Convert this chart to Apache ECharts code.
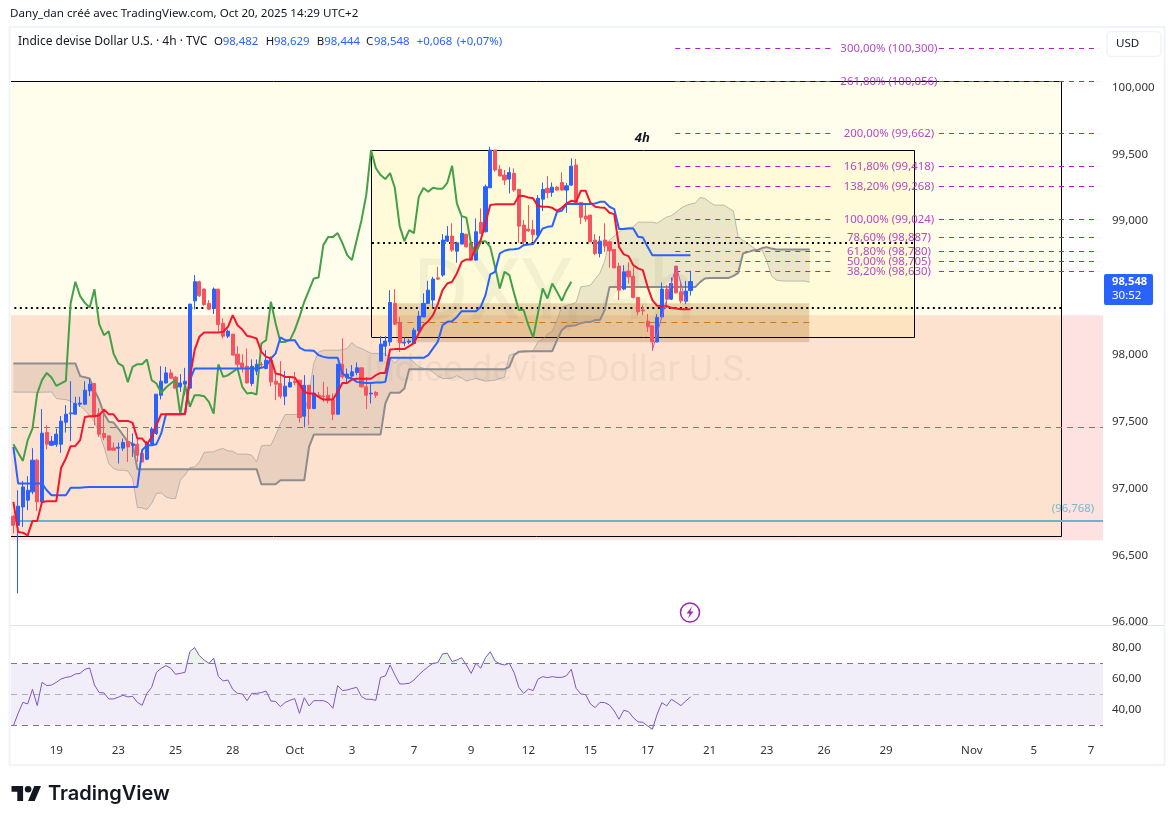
<!DOCTYPE html>
<html>
<head>
<meta charset="utf-8">
<script src="https://cdn.jsdelivr.net/npm/echarts@6/dist/echarts.min.js"></script>
<style>html,body{margin:0;padding:0;background:#fff}#c{width:1175px;height:824px}</style>
</head>
<body>
<div id="c"></div>
<script>
const opens=[96.793,96.725,96.862,96.913,96.975,97.212,96.900,97.419,97.324,97.329,
97.332,97.496,97.559,97.556,97.631,97.631,97.731,97.786,97.561,97.412,
97.394,97.304,97.302,97.302,97.352,97.322,97.332,97.262,97.219,97.332,
97.412,97.698,97.790,97.865,97.833,97.760,97.781,97.751,98.404,98.547,
98.492,98.385,98.347,98.492,98.235,98.140,98.155,98.005,97.940,97.915,
97.786,97.878,97.930,97.898,97.960,97.803,97.786,97.691,97.760,97.803,
97.811,97.541,97.773,97.599,97.698,97.693,97.698,97.661,97.556,97.930,
97.831,97.841,97.868,97.903,97.761,97.708,97.719,97.953,98.065,98.097,
98.385,98.240,98.088,98.095,98.085,98.180,98.284,98.385,98.410,98.576,
98.597,98.851,98.889,98.776,98.829,98.903,98.838,98.709,98.991,98.921,
99.250,99.532,99.388,99.345,99.315,99.358,99.238,98.971,98.941,98.937,
98.896,99.165,99.246,99.216,99.255,99.290,99.233,99.270,99.420,99.141,
99.038,99.046,98.859,98.759,98.859,98.846,98.789,98.664,98.492,98.627,
98.589,98.430,98.335,98.252,98.217,98.097,98.284,98.492,98.417,98.664,
98.472,98.402,98.482];
const closes=[96.725,96.868,97.012,96.987,97.212,96.900,97.414,97.332,97.354,97.407,
97.504,97.556,97.566,97.636,97.639,97.736,97.781,97.536,97.407,97.382,
97.287,97.287,97.309,97.344,97.311,97.334,97.249,97.199,97.344,97.446,
97.706,97.803,97.865,97.826,97.751,97.790,97.803,98.380,98.547,98.442,
98.377,98.342,98.492,98.228,98.140,98.177,97.998,97.930,97.903,97.790,
97.915,97.930,97.925,97.960,97.798,97.781,97.691,97.766,97.793,97.793,
97.531,97.773,97.599,97.713,97.691,97.689,97.661,97.556,97.930,97.835,
97.856,97.873,97.903,97.761,97.698,97.713,97.698,98.080,98.103,98.392,
98.230,98.090,98.095,98.103,98.185,98.290,98.385,98.484,98.567,98.567,
98.859,98.889,98.784,98.838,98.909,98.808,98.709,98.921,98.909,99.258,
99.532,99.383,99.338,99.308,99.365,99.233,98.963,98.846,98.928,98.901,
99.171,99.238,99.213,99.255,99.233,99.233,99.265,99.412,99.133,99.029,
99.016,98.846,98.759,98.851,98.814,98.779,98.651,98.484,98.621,98.584,
98.430,98.322,98.329,98.210,98.097,98.280,98.492,98.417,98.534,98.464,
98.404,98.477,98.548];
const lows=[96.665,96.216,96.713,96.838,96.957,96.832,96.900,97.294,97.317,97.311,
97.267,97.419,97.354,97.556,97.611,97.624,97.691,97.474,97.386,97.362,
97.287,97.287,97.187,97.282,97.199,97.237,97.199,97.195,97.212,97.324,
97.400,97.666,97.786,97.821,97.751,97.723,97.698,97.751,98.340,98.434,
98.367,98.335,98.305,98.172,98.123,98.125,97.998,97.898,97.868,97.786,
97.766,97.848,97.910,97.891,97.766,97.661,97.674,97.624,97.756,97.773,
97.494,97.457,97.474,97.594,97.686,97.648,97.636,97.511,97.556,97.823,
97.790,97.823,97.848,97.756,97.594,97.636,97.678,97.953,97.990,98.067,
98.222,98.022,98.065,98.080,98.080,98.172,98.284,98.380,98.359,98.559,
98.584,98.846,98.771,98.689,98.829,98.804,98.704,98.704,98.909,98.916,
99.250,99.370,99.338,99.270,99.208,99.220,98.838,98.821,98.921,98.846,
98.883,99.076,99.171,99.183,99.228,99.228,99.063,99.263,99.133,98.978,
98.996,98.846,98.746,98.729,98.771,98.651,98.647,98.410,98.484,98.534,
98.422,98.297,98.297,98.172,98.030,98.097,98.280,98.350,98.410,98.460,
98.385,98.380,98.444];
const highs=[96.800,96.987,97.057,97.092,97.302,97.222,97.594,97.474,97.392,97.449,
97.543,97.624,97.803,97.686,97.686,97.803,97.823,97.786,97.601,97.574,
97.394,97.344,97.344,97.374,97.454,97.412,97.374,97.274,97.354,97.461,
97.706,97.915,97.910,97.893,97.841,97.856,97.903,98.380,98.597,98.555,
98.497,98.410,98.504,98.492,98.273,98.190,98.155,98.065,98.005,98.048,
97.966,97.966,97.948,98.035,97.990,97.861,97.953,97.878,97.828,97.873,
97.811,97.848,97.773,97.848,97.723,97.798,97.761,97.711,97.930,98.123,
97.898,97.923,97.943,97.903,97.835,97.786,97.728,98.140,98.140,98.484,
98.492,98.284,98.130,98.118,98.202,98.327,98.460,98.554,98.584,98.659,
98.903,98.963,98.984,98.846,99.046,98.903,98.838,99.021,99.096,99.275,
99.557,99.532,99.420,99.383,99.403,99.395,99.238,99.008,99.121,99.008,
99.195,99.290,99.338,99.290,99.263,99.365,99.285,99.470,99.465,99.141,
99.133,99.046,98.903,98.889,98.984,98.846,98.789,98.689,98.671,98.692,
98.659,98.430,98.372,98.305,98.217,98.305,98.542,98.522,98.579,98.664,
98.547,98.554,98.629];
const tenkan=[96.90,96.675,96.67,96.65,96.758,96.758,96.90,96.905,96.905,96.905,
97.154,97.225,97.317,97.319,97.362,97.536,97.541,97.541,97.549,97.591,
97.556,97.556,97.506,97.506,97.506,97.491,97.374,97.374,97.332,97.384,
97.474,97.556,97.556,97.556,97.556,97.556,97.556,97.826,98.035,98.135,
98.168,98.168,98.168,98.168,98.172,98.21,98.297,98.222,98.19,98.142,
98.135,98.123,98.022,97.985,97.973,97.861,97.853,97.835,97.835,97.831,
97.781,97.723,97.711,97.711,97.686,97.666,97.666,97.666,97.723,97.79,
97.79,97.816,97.821,97.821,97.821,97.821,97.848,97.865,97.865,98.04,
98.043,98.043,98.043,98.065,98.088,98.16,98.222,98.252,98.297,98.38,
98.484,98.534,98.547,98.609,98.696,98.714,98.714,98.808,98.859,98.984,
99.121,99.126,99.126,99.126,99.126,99.126,99.19,99.188,99.178,99.171,
99.113,99.108,99.108,99.10,99.078,99.10,99.133,99.153,99.145,99.228,
99.228,99.138,99.108,99.103,99.10,99.063,99.053,98.808,98.752,98.739,
98.671,98.647,98.634,98.509,98.41,98.367,98.365,98.365,98.352,98.347,
98.342,98.342,98.342];
const kijun=[97.311,97.037,97.037,97.037,97.037,97.037,97.037,96.987,96.95,96.95,
96.95,96.95,97.005,97.005,97.005,97.01,97.012,97.012,97.012,97.012,
97.012,97.012,97.012,97.012,97.012,97.012,97.012,97.287,97.324,97.324,
97.332,97.412,97.556,97.556,97.556,97.556,97.561,97.811,97.898,97.898,
97.898,97.898,97.898,97.898,97.898,97.898,97.898,97.898,97.898,97.898,
97.898,97.898,97.903,97.915,97.973,98.011,98.13,98.11,98.11,98.11,
98.055,98.035,98.033,98.03,97.998,97.985,97.978,97.978,97.978,97.863,
97.831,97.823,97.798,97.793,97.79,97.79,97.793,97.793,97.798,97.978,
97.978,97.978,97.978,97.978,97.978,97.978,97.978,97.998,98.048,98.097,
98.222,98.247,98.252,98.284,98.327,98.327,98.327,98.327,98.359,98.447,
98.602,98.621,98.759,98.779,98.789,98.791,98.796,98.821,98.826,98.829,
98.883,98.946,98.958,98.963,99.07,99.078,99.128,99.128,99.128,99.128,
99.128,99.128,99.133,99.145,99.145,99.108,99.091,98.941,98.941,98.946,
98.946,98.883,98.879,98.808,98.746,98.746,98.746,98.746,98.746,98.746,
98.746,98.746,98.746];
const chikou=[97.332,97.267,97.207,97.362,97.449,97.711,97.811,97.865,97.831,97.768,
97.786,97.805,98.385,98.547,98.439,98.389,98.355,98.49,98.23,98.147,
98.177,98.01,97.936,97.915,97.796,97.91,97.93,97.93,97.966,97.811,
97.786,97.716,97.756,97.786,97.811,97.554,97.773,97.611,97.698,97.698,
97.691,97.648,97.561,97.93,97.835,97.848,97.873,97.898,97.761,97.711,
97.716,97.704,98.085,98.11,98.397,98.235,98.097,98.097,98.11,98.185,
98.284,98.397,98.484,98.572,98.579,98.821,98.881,98.881,98.911,98.836,
98.746,98.709,98.859,99.008,99.195,99.532,99.398,99.345,99.315,99.36,
99.248,98.963,98.851,98.933,98.911,99.18,99.248,99.22,99.25,99.243,
99.243,99.287,99.415,99.133,99.038,99.026,98.826,98.761,98.846,98.851,
98.808,98.659,98.497,98.621,98.597,98.46,98.335,98.335,98.222,98.13,
98.31,98.497,98.422,98.534,98.472,98.404,98.484,98.547];
const senkouA=[97.723,97.721,97.721,97.721,97.721,97.719,97.721,97.721,97.723,97.674,
97.668,97.666,97.653,97.636,97.616,97.586,97.543,97.499,97.412,97.311,
97.187,97.15,97.137,97.137,97.132,97.075,96.858,96.855,96.843,96.888,
96.963,96.967,96.937,96.925,96.925,97.062,97.1,97.157,97.162,97.199,
97.27,97.274,97.274,97.292,97.299,97.282,97.279,97.257,97.257,97.257,
97.249,97.199,97.319,97.324,97.324,97.399,97.487,97.554,97.554,97.554,
97.554,97.556,97.713,97.938,98.022,98.035,98.035,98.035,98.035,98.04,
98.048,98.093,98.06,98.048,98.03,98.011,98.011,98.011,98.009,97.975,
97.938,97.978,97.983,97.975,97.945,97.91,97.9,97.893,97.87,97.841,
97.823,97.823,97.826,97.844,97.826,97.805,97.814,97.823,97.814,97.803,
97.807,97.811,97.822,97.833,97.998,98.009,98.017,98.02,98.024,98.032,
98.097,98.118,98.155,98.177,98.26,98.357,98.368,98.38,98.392,98.509,
98.514,98.522,98.567,98.612,98.701,98.859,98.889,98.918,98.948,98.952,
98.958,98.993,98.993,98.993,98.993,98.986,99.008,99.031,99.042,99.068,
99.098,99.117,99.128,99.136,99.178,99.171,99.143,99.121,99.121,99.121,
99.098,99.076,98.881,98.859,98.836,98.806,98.784,98.784,98.701,98.589,
98.559,98.554,98.552,98.552,98.552,98.552,98.552,98.544];
const senkouB=[97.936,97.936,97.936,97.936,97.936,97.936,97.936,97.936,97.936,97.936,
97.936,97.936,97.936,97.936,97.841,97.833,97.823,97.736,97.661,97.561,
97.499,97.494,97.449,97.399,97.349,97.337,97.145,97.145,97.145,97.145,
97.145,97.145,97.145,97.145,97.145,97.145,97.145,97.145,97.145,97.145,
97.145,97.145,97.145,97.145,97.145,97.145,97.145,97.145,97.145,97.145,
97.145,97.145,97.032,97.032,97.032,97.032,97.062,97.062,97.062,97.062,
97.062,97.062,97.311,97.404,97.404,97.404,97.404,97.404,97.404,97.404,
97.404,97.404,97.404,97.404,97.404,97.404,97.404,97.404,97.636,97.716,
97.716,97.716,97.748,97.893,97.893,97.893,97.893,97.893,97.893,97.893,
97.893,97.893,97.893,97.893,97.893,97.893,97.893,97.893,97.893,97.893,
97.893,97.893,97.893,97.893,97.91,97.998,98.024,98.028,98.028,98.028,
98.028,98.028,98.028,98.028,98.11,98.185,98.215,98.217,98.222,98.237,
98.245,98.245,98.26,98.26,98.335,98.507,98.507,98.507,98.507,98.507,
98.507,98.507,98.507,98.507,98.507,98.507,98.507,98.507,98.507,98.507,
98.507,98.507,98.507,98.507,98.544,98.572,98.576,98.576,98.576,98.576,
98.576,98.591,98.614,98.759,98.769,98.78,98.784,98.799,98.806,98.795,
98.789,98.789,98.789,98.789,98.789,98.789,98.789,98.789];
const rsi=[29.8,37.7,44.8,43.8,53.2,42.7,57.7,55.6,56.0,57.7,
59.9,60.9,61.4,63.1,63.5,66.1,67.0,56.0,51.1,50.9,
47.0,47.0,48.1,49.4,48.3,48.7,44.8,42.9,50.6,54.5,
64.2,66.8,68.5,66.8,62.9,63.5,64.2,77.5,80.1,74.9,
72.1,70.0,73.2,61.4,58.6,59.2,53.2,50.6,50.2,45.9,
50.6,50.6,51.1,52.1,45.7,45.3,42.0,44.8,46.1,47.2,
37.7,47.8,42.5,45.9,45.9,45.9,44.6,41.0,55.6,52.4,
52.8,53.7,54.5,48.5,46.8,46.8,46.1,60.9,61.8,68.9,
62.5,56.7,56.7,57.1,59.2,62.5,65.3,67.8,70.0,70.4,
76.0,76.5,71.1,72.1,73.6,68.9,63.5,70.0,66.8,73.6,
77.5,71.5,69.6,68.9,70.0,64.0,54.5,50.6,53.4,52.4,
59.7,61.4,60.7,61.4,60.9,60.9,62.0,66.1,53.9,50.2,
49.8,43.8,41.4,44.8,44.6,43.1,39.2,33.9,39.7,38.8,
34.9,32.2,31.9,29.6,27.4,37.1,44.6,42.5,46.8,44.8,
42.7,45.7,48.3];
const priceTicks=[96,96.5,97,97.5,98,98.5,99,99.5,100];
const rsiTicks=[40,60,80];
const rsiLevels=[70,50,30];
const timeTicks=[[9,'19'],[22,'23'],[34,'25'],[46,'28'],[59,'Oct'],[71,'3'],[84,'7'],[96,'9'],[108,'12'],[121,'15'],[133,'17'],[146,'21'],[158,'23'],[170,'26'],[183,'29'],[201,'Nov'],[214,'5'],[226,'7']];
const fibLevels=[100.293,100.043,99.657,99.41,99.26,99.013,98.879,98.774,98.699,98.624];
const fibTexts=['300,00% (100,300)','261,80% (100,056)','200,00% (99,662)','161,80% (99,418)','138,20% (99,268)','100,00% (99,024)','78,60% (98,887)','61,80% (98,780)','50,00% (98,705)','38,20% (98,630)'];
const bosLine=[[134,98.035],[139,98.664],[141,98.40]];

const BARS=229, UP='#2962ff', DOWN='#f7525f';
const FONT='"Noto Sans", sans-serif';
const cats=Array.from({length:BARS},(_,i)=>String(i));
const tickMap=new Map(timeTicks);
const yellow='rgba(255,235,59,0.1)';

function rectSeries(rows,fill,z){
  return {type:'custom',xAxisIndex:1,yAxisIndex:0,z,silent:true,data:rows,
    renderItem(p,api){
      const a=api.coord([api.value(0),api.value(2)]),b=api.coord([api.value(1),api.value(3)]);
      return {type:'rect',shape:{x:a[0],y:b[1],width:b[0]-a[0],height:a[1]-b[1]},style:{fill}};
    }};
}
const crisp=(v,w)=>w%2?Math.floor(v)+0.5:Math.round(v);
function hLines(rows,color,width,dash,z){
  return {type:'custom',xAxisIndex:1,yAxisIndex:0,z,silent:true,data:rows,
    renderItem(p,api){
      const a=api.coord([api.value(0),api.value(2)]),b=api.coord([api.value(1),api.value(2)]);
      const y=crisp(a[1],width);
      return {type:'line',shape:{x1:a[0],y1:y,x2:b[0],y2:y},style:{stroke:color,lineWidth:width,lineDash:dash||null}};
    }};
}
function vLines(rows,color,width,z){
  return {type:'custom',xAxisIndex:1,yAxisIndex:0,z,silent:true,data:rows,
    renderItem(p,api){
      const a=api.coord([api.value(0),api.value(1)]),b=api.coord([api.value(0),api.value(2)]);
      const x=crisp(a[0],width);
      return {type:'line',shape:{x1:x,y1:a[1],x2:x,y2:b[1]},style:{stroke:color,lineWidth:width}};
    }};
}
function textMarks(rows,color,font,z){
  return {type:'custom',xAxisIndex:1,yAxisIndex:0,z,silent:true,data:rows.map(r=>[r[0],r[1]]),
    renderItem(p,api){
      const a=api.coord([api.value(0),api.value(1)]);
      return {type:'text',x:a[0],y:a[1],style:{text:rows[p.dataIndex][2],fill:color,font,align:'center',verticalAlign:'middle'}};
    }};
}
function ln(data,color,width,z,extra){
  return Object.assign({type:'line',xAxisIndex:0,yAxisIndex:0,data,symbol:'none',z,silent:true,clip:true,
    lineStyle:{color,width},itemStyle:{color}},extra||{});
}
function hdr(text,x,y,color,size){
  return {type:'text',x,y,z:50,silent:true,style:{text,fill:color,font:(size||12)+'px '+FONT,verticalAlign:'middle'}};
}
const cloud={type:'custom',xAxisIndex:0,yAxisIndex:0,z:2,silent:true,data:[[0,0]],
  renderItem(p,api){
    const pts=[];
    senkouA.forEach((v,i)=>pts.push(api.coord([i,v])));
    for(let i=senkouB.length-1;i>=0;i--)pts.push(api.coord([i,senkouB[i]]));
    return {type:'polygon',shape:{points:pts},style:{fill:'rgba(110,105,95,0.14)'}};
  }};

const chart=echarts.init(document.getElementById('c'),null,{renderer:'canvas'});
chart.setOption({
  animation:false,
  backgroundColor:'#fff',
  grid:[{left:11,top:27,width:1092,height:598},{left:11,top:626,width:1092,height:112}],
  xAxis:[
    {type:'category',gridIndex:0,data:cats,show:false,boundaryGap:true},
    {type:'value',gridIndex:0,min:-0.5,max:BARS-0.5,show:false},
    {type:'category',gridIndex:1,data:cats,boundaryGap:true,axisLine:{show:false},axisTick:{show:false},splitLine:{show:false},
      axisLabel:{show:true,margin:7,color:'#333',fontFamily:FONT,fontSize:11.6,hideOverlap:false,
        interval:(i)=>tickMap.has(i),formatter:(v,i)=>tickMap.get(+v)||''}}
  ],
  yAxis:[
    {type:'value',gridIndex:0,position:'right',min:95.979,max:100.453,axisLine:{show:false},axisTick:{show:false},splitLine:{show:false},
      axisLabel:{customValues:priceTicks,margin:9,color:'#333',fontFamily:FONT,fontSize:11.5,formatter:v=>v.toFixed(3).replace('.',',')}},
    {type:'value',gridIndex:1,position:'right',min:21.8,max:94.06,axisLine:{show:false},axisTick:{show:false},splitLine:{show:false},
      axisLabel:{customValues:rsiTicks,margin:9,color:'#333',fontFamily:FONT,fontSize:11.5,formatter:v=>v.toFixed(2).replace('.',',')}}
  ],
  series:[
    rectSeries([[-0.5,228.5,96.613,98.297]],'#fee1e1',0),
    rectSeries([[-0.5,219.8,96.641,100.043]],yellow,1),
    rectSeries([[75.2,189,98.13,99.528]],yellow,1),
    rectSeries([[80.3,166.9,98.095,98.387]],'rgba(180,120,50,0.3)',1),
    hLines([[-0.5,219.8,100.043],[-0.5,219.8,96.641],[75.2,189,99.528],[75.2,189,98.13]],'#000',1,null,1),
    vLines([[219.8,96.641,100.043],[75.2,98.13,99.528],[189,98.13,99.528]],'#000',1,1),
    cloud,
    hLines([[80.3,166.9,98.243]],'#c8761e',1,[6,5],3),
    hLines([[-0.5,228.5,97.459]],'#d9505a',1,[6,5],3),
    hLines([[0.2,219.8,98.35],[75.2,189,98.838]],'#000',2,[2,3.5],3),
    hLines([[-0.5,228.5,96.757]],'#67b7c6',2,null,3),
    hLines(fibLevels.flatMap(v=>[[138.8,172.3,v],[194.1,227.7,v]]),'#a726c1',1,[5,5],3),
    ln(senkouA,'rgba(150,150,150,0.6)',1,4),
    ln(senkouB,'#8d8d8d',2,4),
    {type:'candlestick',xAxisIndex:0,yAxisIndex:0,z:5,silent:true,barWidth:3.6,
      data:opens.map((o,i)=>[o,closes[i],lows[i],highs[i]]),
      itemStyle:{color:UP,color0:DOWN,borderColor:UP,borderColor0:DOWN,borderWidth:1}},
    ln(chikou,'#43a047',2,6),
    ln(kijun,'#2962ff',2,6),
    ln(tenkan,'#f2162f',2,6),
    {type:'line',xAxisIndex:1,yAxisIndex:0,z:7,symbol:'none',silent:true,data:bosLine,lineStyle:{color:'#b45cc4',width:1}},
    textMarks(fibLevels.map((v,i)=>[183.6,v,fibTexts[i]]),'rgba(166,40,190,0.85)','11.4px '+FONT,8),
    textMarks([[222.2,96.845,'(96,768)']],'#74bcc9','11.4px '+FONT,8),
    textMarks([[131.9,99.62,'4h']],'#131722','italic bold 13px '+FONT,8),
    {type:'line',xAxisIndex:2,yAxisIndex:1,data:rsi.map(v=>Math.max(v,70)),symbol:'none',silent:true,z:3,lineStyle:{width:0},
      areaStyle:{origin:70,color:'rgba(76,175,80,0.18)'}},
    {type:'line',xAxisIndex:2,yAxisIndex:1,data:rsi.map(v=>Math.min(v,30)),symbol:'none',silent:true,z:3,lineStyle:{width:0},
      areaStyle:{origin:30,color:'rgba(242,54,69,0.18)'}},
    {type:'line',xAxisIndex:2,yAxisIndex:1,data:rsi,symbol:'none',silent:true,z:4,lineStyle:{color:'#7e57c2',width:1},
      markArea:{silent:true,itemStyle:{color:'rgba(126,87,194,0.1)'},data:[[{yAxis:rsiLevels[2]},{yAxis:rsiLevels[0]}]]},
      markLine:{silent:true,symbol:'none',label:{show:false},data:[
        {yAxis:rsiLevels[0],lineStyle:{color:'#787b86',type:[6,5],width:1}},
        {yAxis:rsiLevels[1],lineStyle:{color:'rgba(120,123,134,0.55)',type:[6,5],width:1}},
        {yAxis:rsiLevels[2],lineStyle:{color:'#787b86',type:[6,5],width:1}}]}}
  ],
  graphic:[
    {type:'rect',z:-1,silent:true,shape:{x:9.5,y:27,width:1155,height:738},style:{fill:null,stroke:'#f0f3fa',lineWidth:2}},
    {type:'text',z:1,silent:true,x:413,y:298,style:{text:'DXY, 4h',fill:'rgba(120,123,134,0.1)',font:'85px "Roboto", sans-serif',align:'left',verticalAlign:'middle'}},
    {type:'text',z:1,silent:true,x:559,y:372,style:{text:'Indice devise Dollar U.S.',fill:'rgba(120,123,134,0.1)',font:'36.5px "Roboto", sans-serif',align:'center',verticalAlign:'middle'}},
    {type:'rect',z:40,silent:true,shape:{x:1105,y:626,width:58,height:5},style:{fill:'#fff'}},
    {type:'line',z:41,silent:true,shape:{x1:10,y1:625.5,x2:1164,y2:625.5},style:{stroke:'#e0e3eb',lineWidth:1}},
    hdr('Dany_dan créé avec TradingView.com, Oct 20, 2025 14:29 UTC+2',10,14,'#131722',11.6),
    hdr('Indice devise Dollar U.S. · 4h · TVC',18,42,'#131722',12),
    hdr('O',214,42,'#131722',11.5),hdr('98,482',222.7,42,UP,11.4),
    hdr('H',265.7,42,'#131722',11.5),hdr('98,629',274,42,UP,11.4),
    hdr('B',316.7,42,'#131722',11.5),hdr('98,444',324.3,42,UP,11.4),
    hdr('C',366,42,'#131722',11.5),hdr('98,548',374,42,UP,11.4),
    hdr('+0,068',416.7,42,UP,11.4),hdr('(+0,07%)',456.7,42,UP,11.4),
    {type:'rect',z:50,silent:true,shape:{x:1107,y:31.5,width:54,height:25,r:4},style:{fill:'#fff',stroke:'#f0f3fa',lineWidth:1.5}},
    hdr('USD',1116,44,'#131722',11.6),
    {type:'rect',z:50,silent:true,shape:{x:1104,y:274,width:49,height:31,r:2},style:{fill:UP}},
    {type:'text',z:51,silent:true,x:1112,y:282,style:{text:'98,548',fill:'#fff',font:'bold 11.2px '+FONT,verticalAlign:'middle'}},
    {type:'text',z:51,silent:true,x:1112,y:295.5,style:{text:'30:52',fill:'#fff',font:'11.5px '+FONT,verticalAlign:'middle'}},
    {type:'circle',z:50,silent:true,shape:{cx:690,cy:612.5,r:9.5},style:{fill:'#fff',stroke:'#9c27b0',lineWidth:1.5}},
    {type:'polygon',z:51,silent:true,shape:{points:[[692,606.5],[686.5,613.5],[689.7,613.5],[688,618.5],[693.5,611.5],[690.3,611.5]]},style:{fill:'#9c27b0'}},
    {type:'polygon',z:50,silent:true,shape:{points:[[11.5,786],[23.1,786],[23.1,801],[17.3,801],[17.3,791.8],[11.5,791.8]]},style:{fill:'#131722'}},
    {type:'polygon',z:50,silent:true,shape:{points:[[34.7,801],[28.1,801],[34.3,786],[41,786]]},style:{fill:'#131722'}},
    {type:'circle',z:50,silent:true,shape:{cx:28.1,cy:789.3,r:3.3},style:{fill:'#131722'}},
    {type:'text',z:50,silent:true,x:48,y:794,style:{text:'TradingView',fill:'#131722',font:'600 20px "Inter", sans-serif',verticalAlign:'middle'}}
  ]
});
</script>
</body>
</html>
